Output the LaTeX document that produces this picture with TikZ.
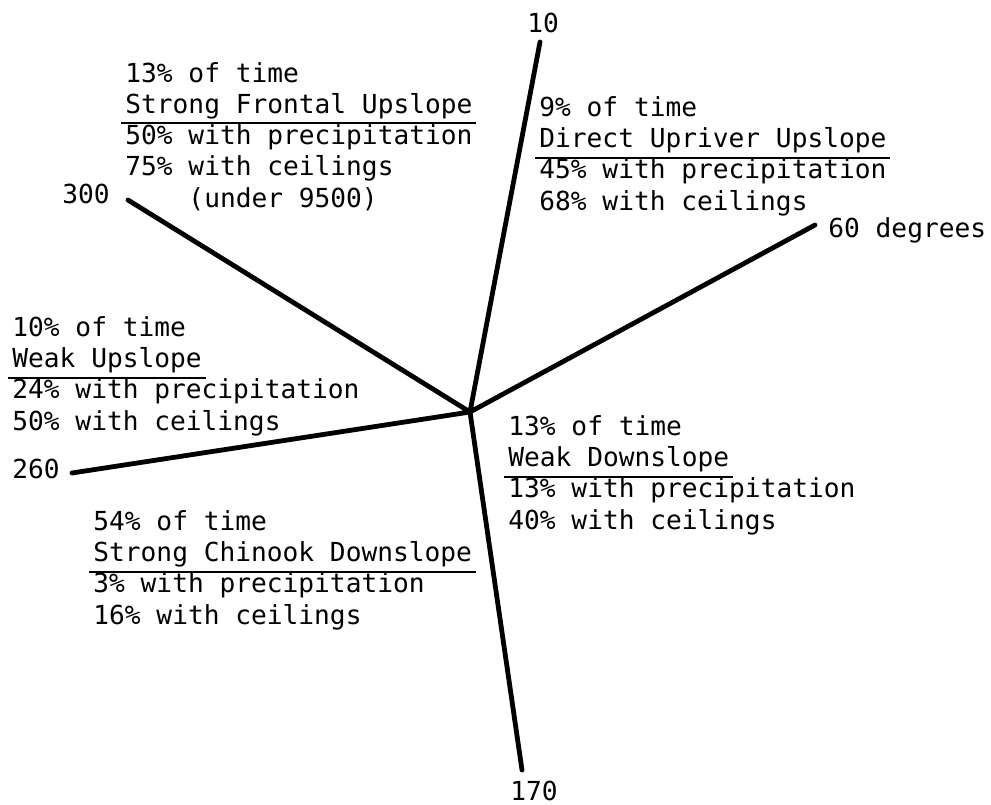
\documentclass[tikz,border=0pt]{standalone}
\usepackage{fontspec}
\setmonofont{DejaVu Sans Mono}
\usetikzlibrary{positioning}
% heading with a rule under it, a little wider than the words
\newcommand{\hd}[1]{\setbox0=\hbox{#1}\rlap{\smash{\kern-2pt\rule[-5.5pt]{\dimexpr\wd0+4pt\relax}{1pt}}}\box0}
\tikzset{
    every node/.style={font=\ttfamily\fontsize{13.1}{15.6}\selectfont, inner sep=0pt}, % typewriter text
    ray/.style={line width=2.4pt, line cap=round}, % the wind direction lines
    block/.style={align=left, anchor=base west}, % the text blocks (placed by their last line)
    lbl/.style={anchor=base west}, % the degree labels
}

\begin{document}
\begin{tikzpicture}[x=0.5pt,y=-0.5pt]
    \useasboundingbox (0,0) rectangle (991,804);

    \coordinate (c) at (470,412);
    \coordinate (e10) at (540,42);
    \coordinate (e60) at (815,225);
    \coordinate (e170) at (522,770);
    \coordinate (e260) at (72,473);
    \coordinate (e300) at (128,200);

    \draw[ray] (c) -- (e10)
               (c) -- (e60)
               (c) -- (e170)
               (c) -- (e260)
               (c) -- (e300);

    \node[lbl] (l10) at (527,32) {10};
    \node[lbl] (l60) at (828,237) {60 degrees};
    \node[lbl] (l170) at (510,800) {170};
    \node[lbl] (l260) at (12,478) {260};
    \node[lbl] (l300) at (62,203) {300};

    \node[block] (fu) at (125,207) {13\% of time\\
        \hd{Strong Frontal Upslope}\\
        50\% with precipitation\\
        75\% with ceilings\\
        \phantom{0000}(under 9500)};
    \node[block] (du) at (539,210) {9\% of time\\
        \hd{Direct Upriver Upslope}\\
        45\% with precipitation\\
        68\% with ceilings};
    \node[block] (wu) at (12,430) {10\% of time\\
        \hd{Weak Upslope}\\
        24\% with precipitation\\
        50\% with ceilings};
    \node[block] (wd) at (508,529) {13\% of time\\
        \hd{Weak Downslope}\\
        13\% with precipitation\\
        40\% with ceilings};
    \node[block] (cd) at (93,624) {54\% of time\\
        \hd{Strong Chinook Downslope}\\
        3\% with precipitation\\
        16\% with ceilings};
\end{tikzpicture}
\end{document}
